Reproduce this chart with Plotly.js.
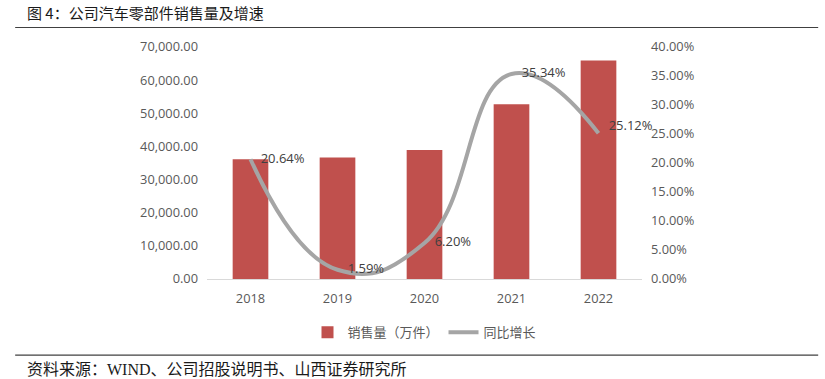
<!DOCTYPE html>
<html><head><meta charset="utf-8">
<script src="https://cdn.plot.ly/plotly-3.0.1.min.js"></script>
<style>html,body{margin:0;padding:0;background:#fff;}#c{width:825px;height:379px;}</style>
</head><body><div id="c"></div>
<script>
const years = ['2018','2019','2020','2021','2022'];
const sales = [36100, 36680, 38950, 52710, 65950];
const growth = [20.64, 1.59, 6.20, 35.34, 25.12];
const leftTicks = [0,10000,20000,30000,40000,50000,60000,70000];
const rightTicks = [0,5,10,15,20,25,30,35,40];

const tickFont = {family:'Open Sans, Noto Sans CJK SC', size:12.8, color:'#595959'};
const data = [
  {type:'bar', x:years, y:sales, name:'销售量（万件）', marker:{color:'#C0504D'}, width:0.41, yaxis:'y', hoverinfo:'skip'},
  {type:'scatter', mode:'lines+text', x:years, y:growth, name:'同比增长', yaxis:'y2',
   line:{color:'#A5A5A5', width:4, shape:'spline', smoothing:1.3},
   text:growth.map(v=>'\u00a0\u00a0\u00a0'+v.toFixed(2)+'%'),
   textposition:['middle right','middle right','middle right','middle right','top right'],
   textfont:{family:'Open Sans, Noto Sans CJK SC', size:13, color:'#404040'}, cliponaxis:false}
];
const layout = {
  width:825, height:379, paper_bgcolor:'#fff', plot_bgcolor:'#fff',
  margin:{l:207, r:183, t:47, b:100},
  showlegend:true, bargap:0.59,
  legend:{orientation:'h', x:0.5, xanchor:'center', y:-0.165, yanchor:'top', font:{family:'Noto Sans CJK SC', size:13, color:'#595959'}},
  xaxis:{type:'category', tickfont:tickFont, showline:true, linecolor:'#D9D9D9', linewidth:1, ticks:'', showgrid:false, zeroline:false, ticklabelstandoff:8},
  yaxis:{range:[0,70000], tickvals:leftTicks, ticktext:leftTicks.map(v=>v.toLocaleString('en-US',{minimumFractionDigits:2})), tickfont:tickFont, showgrid:false, zeroline:false, ticks:'', ticklabelstandoff:8},
  yaxis2:{range:[0,40], overlaying:'y', side:'right', tickvals:rightTicks, ticktext:rightTicks.map(v=>v.toFixed(2)+'%'), tickfont:tickFont, showgrid:false, zeroline:false, ticks:'', ticklabelstandoff:8},
  shapes:[
    {type:'line', xref:'paper', yref:'paper', x0:-0.441, x1:1.405, y0:1.084, y1:1.084, line:{color:'#404040', width:1.2}},
    {type:'line', xref:'paper', yref:'paper', x0:-0.441, x1:1.405, y0:-0.328, y1:-0.328, line:{color:'#404040', width:1.2}}
  ],
  annotations:[
    {text:'图 4：公司汽车零部件销售量及增速', xref:'paper', yref:'paper', x:-0.418, y:1.15, xanchor:'left', yanchor:'middle', showarrow:false, font:{family:'Noto Sans CJK SC', size:15, color:'#1a1a1a'}},
    {text:'资料来源：WIND、公司招股说明书、山西证券研究所', xref:'paper', yref:'paper', x:-0.418, y:-0.388, xanchor:'left', yanchor:'middle', showarrow:false, font:{family:'Liberation Serif, Noto Sans CJK SC', size:16, color:'#1a1a1a'}}
  ]
};
Plotly.newPlot('c', data, layout, {displayModeBar:false, staticPlot:true});
</script></body></html>
